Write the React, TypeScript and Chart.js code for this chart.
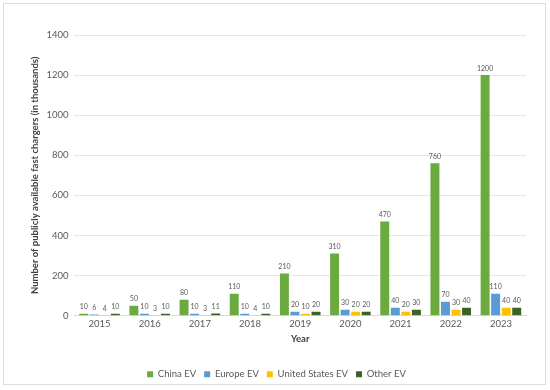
import React, { useEffect, useRef } from "react";
import { Chart, registerables } from "chart.js";

Chart.register(...registerables);

const years = ["2015", "2016", "2017", "2018", "2019", "2020", "2021", "2022", "2023"];
const chinaEV = [10, 50, 80, 110, 210, 310, 470, 760, 1200];
const europeEV = [6, 10, 10, 10, 20, 30, 40, 70, 110];
const usEV = [4, 3, 3, 4, 10, 20, 20, 30, 40];
const otherEV = [10, 10, 11, 10, 20, 20, 30, 40, 40];
const yTicks = [0, 200, 400, 600, 800, 1000, 1200, 1400];

const FONT = "Lato, 'Open Sans', sans-serif";

const labelPlugin = {
  id: "barLabels",
  afterDatasetsDraw(chart: any) {
    const ctx = chart.ctx;
    ctx.save();
    ctx.font = `7px ${FONT}`;
    ctx.fillStyle = "#595959";
    ctx.textAlign = "center";
    ctx.textBaseline = "bottom";
    chart.data.datasets.forEach((ds: any, i: number) => {
      const meta = chart.getDatasetMeta(i);
      meta.data.forEach((bar: any, j: number) => {
        ctx.fillText(String(ds.data[j]), bar.x, bar.y - 3);
      });
    });
    ctx.restore();
  },
};

export default function App() {
  const ref = useRef<HTMLCanvasElement>(null);
  useEffect(() => {
    document.body.style.margin = "0";
    const chart = new Chart(ref.current!, {
      type: "bar",
      data: {
        labels: years,
        datasets: [
          { label: "China EV", data: chinaEV, backgroundColor: "#6BAA3F" },
          { label: "Europe EV", data: europeEV, backgroundColor: "#5B9BD5" },
          { label: "United States EV", data: usEV, backgroundColor: "#FFC000" },
          { label: "Other EV", data: otherEV, backgroundColor: "#3B6324" },
        ],
      },
      options: {
        animation: false,
        responsive: false,
        maintainAspectRatio: false,
        datasets: { bar: { categoryPercentage: 0.84, barPercentage: 0.85 } },
        layout: { padding: { left: 27, right: 24, top: 35, bottom: 1 } },
        scales: {
          x: {
            grid: { display: false, drawTicks: false },
            border: { display: true, color: "#d9d9d9" },
            ticks: { color: "#595959", font: { family: FONT, size: 9.5 }, padding: 3 },
            title: {
              display: true,
              text: "Year",
              color: "#404040",
              font: { family: FONT, size: 9.5, weight: "bold" },
              padding: { top: 0, bottom: 17 },
            },
          },
          y: {
            min: 0,
            max: 1400,
            afterBuildTicks: (axis: any) => {
              axis.ticks = yTicks.map((v) => ({ value: v }));
            },
            grid: { color: "#e6e6e6", drawTicks: false },
            border: { display: false },
            ticks: {
              color: "#595959",
              font: { family: FONT, size: 9.5 },
              padding: 6,
              callback: (v: any) => String(v),
            },
            title: {
              display: true,
              text: "Number of publicly available fast chargers (in thousands)",
              color: "#404040",
              font: { family: FONT, size: 9.5, weight: "bold" },
              padding: { top: 2, bottom: 0 },
            },
          },
        },
        plugins: {
          legend: {
            position: "bottom",
            labels: {
              boxWidth: 6,
              boxHeight: 6,
              color: "#595959",
              font: { family: FONT, size: 9.5 },
              padding: 8,
            },
          },
          tooltip: { enabled: false },
        },
      },
      plugins: [labelPlugin],
    } as any);
    return () => chart.destroy();
  }, []);
  return (
    <div style={{ position: "relative", width: 550, height: 390 }}>
      <canvas ref={ref} width={550} height={390} style={{ display: "block" }} />
      <div
        style={{
          position: "absolute",
          left: 3,
          top: 3,
          width: 541,
          height: 380,
          border: "1px solid #dcdcdc",
          pointerEvents: "none",
        }}
      />
    </div>
  );
}
